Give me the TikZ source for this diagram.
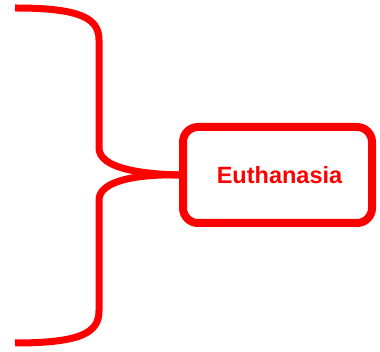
\documentclass[tikz,border=0pt]{standalone}
\usepackage{fontspec}
\setmainfont{Liberation Sans}
\begin{document}
\begin{tikzpicture}[x=1pt,y=-1pt,
  brace/.style={draw=red, line width=7pt, line cap=butt, line join=round},
  topicbox/.style={draw=red, line width=8pt, rounded corners=15pt, fill=white,
    minimum width=189pt, minimum height=96pt, inner sep=0pt,
    font=\fontsize{23.5}{28}\selectfont\bfseries, text=red}]
\useasboundingbox (0,0) rectangle (380,352);
\node[topicbox] (box) at (277.5,175) {\hspace{4pt}Euthanasia};
\coordinate (top) at (15,8);
\coordinate (bot) at (15,343);
\draw[brace] (top) .. controls (80,8) and (99,18) .. (99,40)
  -- (99,148) .. controls (99,168) and (140,174) .. (box.west);
\draw[brace] (bot) .. controls (80,343) and (99,333) .. (99,311)
  -- (99,200) .. controls (99,180) and (140,174) .. (box.west);
\end{tikzpicture}
\end{document}
